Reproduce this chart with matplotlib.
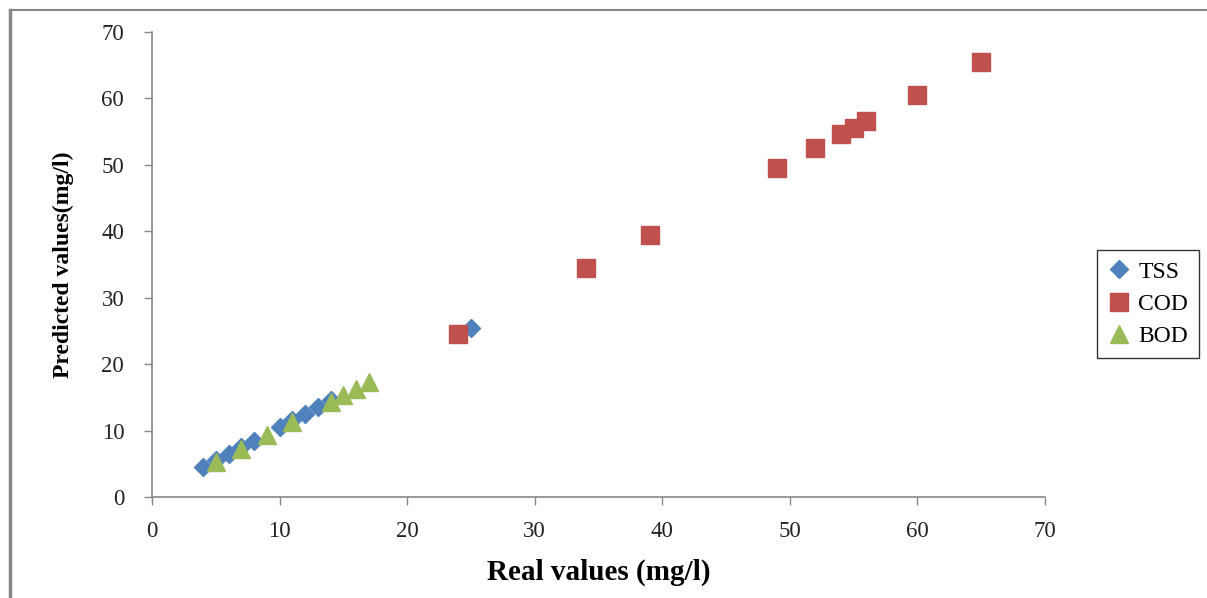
import matplotlib
matplotlib.use("Agg")
import matplotlib.pyplot as plt
from matplotlib.lines import Line2D

# Real vs predicted values (mg/l)
tss_real = [4, 5, 6, 7, 8, 10, 11, 12, 13, 14, 25]
tss_pred = [4.5, 5.5, 6.5, 7.5, 8.5, 10.5, 11.6, 12.5, 13.5, 14.6, 25.5]

cod_real = [24, 34, 39, 49, 52, 54, 55, 56, 60, 65]
cod_pred = [24.5, 34.5, 39.5, 49.5, 52.5, 54.6, 55.6, 56.6, 60.5, 65.5]

bod_real = [5, 7, 9, 11, 14, 15, 16, 17]
bod_pred = [5.3, 7.3, 9.3, 11.3, 14.3, 15.3, 16.3, 17.3]

ticks = [0, 10, 20, 30, 40, 50, 60, 70]

plt.rcParams['font.family'] = ['Liberation Serif', 'DejaVu Serif']

fig = plt.figure(figsize=(12.07, 5.98), dpi=100)
ax = fig.add_axes([0.1259, 0.1689, 0.7399, 0.7776])

ax.plot(tss_real, tss_pred, linestyle='none', marker='D', ms=9.5,
        color='#4F81BD', label='TSS', zorder=3)
ax.plot(cod_real, cod_pred, linestyle='none', marker='s', ms=13,
        color='#C0504D', label='COD', zorder=3)
ax.plot(bod_real, bod_pred, linestyle='none', marker='^', ms=12.5,
        color='#9BBB59', label='BOD', zorder=4)

ax.set_xlim(0, 70)
ax.set_ylim(0, 70)
ax.set_xticks(ticks)
ax.set_yticks(ticks)
ax.tick_params(labelsize=16.5, colors='#222222', length=6, width=1,
               color='#888888')
ax.tick_params(axis='x', pad=11)
ax.tick_params(axis='y', pad=14)
for s in ['top', 'right']:
    ax.spines[s].set_visible(False)
for s in ['left', 'bottom']:
    ax.spines[s].set_color('#888888')
    ax.spines[s].set_linewidth(1.2)

ax.set_xlabel('Real values (mg/l)', fontsize=21, fontweight='bold', labelpad=12)
ax.set_ylabel('Predicted values(mg/l)', fontsize=17, fontweight='bold', labelpad=20)

leg = ax.legend(loc='center left', bbox_to_anchor=(1.045, 0.415), fontsize=17,
                frameon=True, fancybox=False, edgecolor='black',
                handlelength=1.0, handletextpad=0.3, borderpad=0.45,
                labelspacing=0.45)
leg.get_frame().set_linewidth(1.0)

# outer frame lines at top and left of the picture
fig.add_artist(Line2D([0.0085, 0.0085], [0, 0.983], color='#888888', lw=2.5))
fig.add_artist(Line2D([0.0085, 1.0], [0.983, 0.983], color='#888888', lw=1.5))

fig.savefig('out.png', dpi=100)
